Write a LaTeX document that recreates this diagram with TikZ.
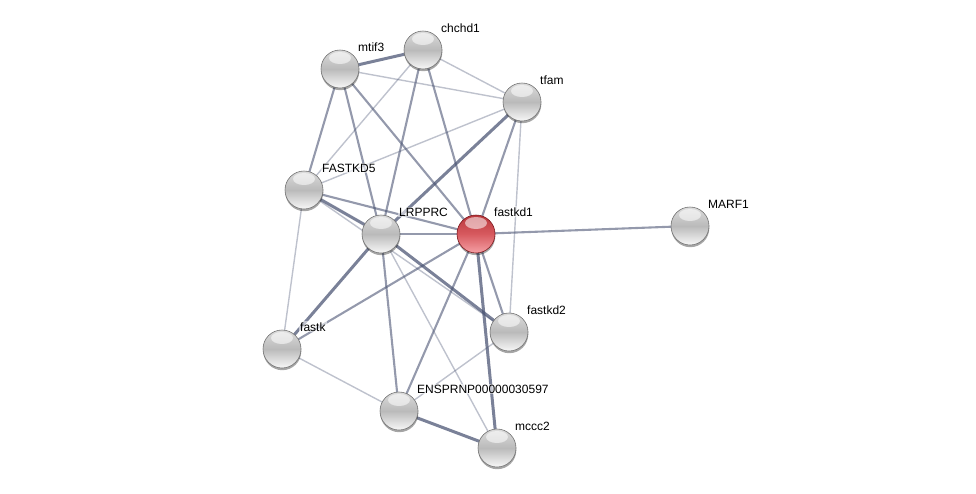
\documentclass[tikz,border=0pt]{standalone}
\usepackage{fontspec}
\setmainfont{Liberation Sans}
\usetikzlibrary{backgrounds,shadows}
\definecolor{edgec}{RGB}{70,80,112}
\definecolor{redtop}{RGB}{185,55,60}
\definecolor{redmid}{RGB}{215,90,95}
\definecolor{redbot}{RGB}{245,160,165}
\definecolor{redline}{RGB}{125,25,30}
\tikzset{
  ball/.style={circle, minimum size=38pt, inner sep=0pt, draw=black!55, line width=0.6pt,
    top color=black!14, bottom color=black!3, middle color=black!27,
    drop shadow={shadow xshift=0.3pt, shadow yshift=-2.2pt, opacity=0.35, fill=black},
    path picture={\fill[white,opacity=0.55] ([yshift=-8pt]path picture bounding box.north) ellipse (11pt and 6pt);}},
  redball/.style={ball, draw=redline, top color=redtop, bottom color=redbot, middle color=redmid},
  lbl/.style={anchor=base west, inner sep=1pt, font=\fontsize{12}{14}\selectfont, text=black,
    fill=white, fill opacity=0.55, text opacity=1},
  e1/.style={draw=edgec, line width=1.4pt, opacity=0.35},
  e2/.style={draw=edgec, line width=2.1pt, opacity=0.58},
  e3/.style={draw=edgec, line width=3pt, opacity=0.72}
}
\begin{document}
\begin{tikzpicture}[x=1pt,y=-1pt]
\useasboundingbox (0,0) rectangle (976,493);
\node[ball] (mtif3) at (340,69) {};
\node[ball] (chchd1) at (423,50) {};
\node[ball] (tfam) at (522,102) {};
\node[ball] (FASTKD5) at (304,190) {};
\node[ball] (LRPPRC) at (381,234) {};
\node[redball] (fastkd1) at (476,234) {};
\node[ball] (MARF1) at (690,226) {};
\node[ball] (fastkd2) at (509,332) {};
\node[ball] (fastk) at (282,349) {};
\node[ball] (ENSP) at (399,411) {};
\node[ball] (mccc2) at (497,448) {};

\foreach \n/\t in {mtif3/mtif3, chchd1/chchd1, tfam/tfam, FASTKD5/FASTKD5, LRPPRC/LRPPRC,
  fastkd1/fastkd1, MARF1/MARF1, fastkd2/fastkd2, fastk/fastk, ENSP/ENSPRNP00000030597, mccc2/mccc2}
  \node[lbl] (t-\n) at ([shift={(17pt,18pt)}]\n.center) {\t};

\begin{pgfonlayer}{background}
% thick
\draw[e3] (mtif3.center) -- (chchd1.center);
\draw[e3] (FASTKD5.center) -- (LRPPRC.center);
\draw[e3] (LRPPRC.center) -- (fastkd2.center);
\draw[e3] (ENSP.center) -- (mccc2.center);
\draw[e3] (tfam.center) -- (LRPPRC.center);
\draw[e3] (fastkd1.center) -- (mccc2.center);
\draw[e3] (LRPPRC.center) -- (fastk.center);
\draw[e2] (fastkd1.center) -- (fastk.center);
% medium
\draw[e2] (mtif3.center) -- (FASTKD5.center);
\draw[e2] (mtif3.center) -- (LRPPRC.center);
\draw[e2] (mtif3.center) -- (fastkd1.center);
\draw[e2] (chchd1.center) -- (LRPPRC.center);
\draw[e2] (chchd1.center) -- (fastkd1.center);
\draw[e1] (chchd1.center) -- (tfam.center);
\draw[e2] (tfam.center) -- (fastkd1.center);
\draw[e2] (FASTKD5.center) -- (fastkd1.center);
\draw[e2] (LRPPRC.center) -- (fastkd1.center);
\draw[e2] (LRPPRC.center) -- (ENSP.center);
\draw[e2] (fastkd1.center) -- (fastkd2.center);
\draw[e2] (fastkd1.center) -- (MARF1.center);
\draw[e2] (fastkd1.center) -- (ENSP.center);
% light
\draw[e1] (mtif3.center) -- (tfam.center);
\draw[e1] (chchd1.center) -- (FASTKD5.center);
\draw[e1] (tfam.center) -- (FASTKD5.center);
\draw[e1] (tfam.center) -- (fastkd2.center);
\draw[e1] (FASTKD5.center) -- (fastk.center);
\draw[e1] (FASTKD5.center) -- (fastkd2.center);
\draw[e1] (LRPPRC.center) -- (mccc2.center);
\draw[e1] (fastk.center) -- (ENSP.center);
\draw[e1] (fastkd2.center) -- (ENSP.center);
\end{pgfonlayer}
\end{tikzpicture}
\end{document}
